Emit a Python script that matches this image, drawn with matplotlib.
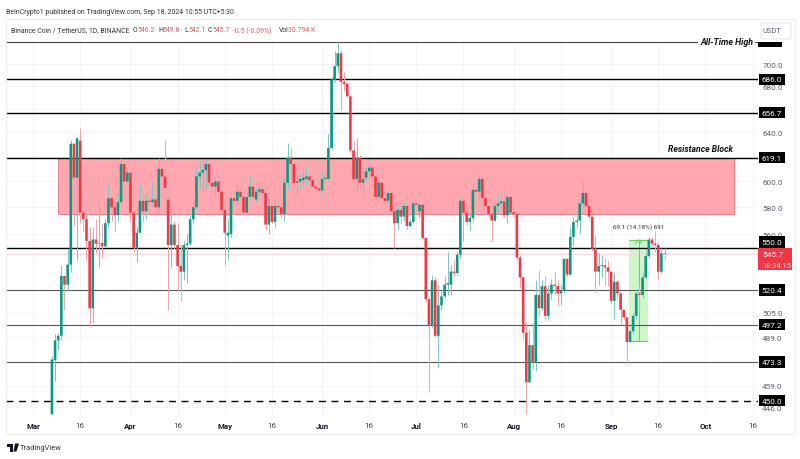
import matplotlib
matplotlib.use("Agg")
import matplotlib.pyplot as plt
import matplotlib.dates as mdates
from matplotlib.patches import Rectangle, FancyBboxPatch, Polygon
from matplotlib.ticker import NullLocator, FixedLocator, FixedFormatter
import numpy as np
import pandas as pd

start_date = "2024-03-07"
opens = [442,474.5,487,490,530,524,538,630.5,603,633,
576,571,555,508,556,553,553.5,551,568,587,
580,574,584,614,600,607,576,550,561,585,
577,585,584,586,580,610,604,586,552,567,
552,537,533,552,553,571,580,604,607,609,
614,599,596,600,592,578,559,560,587,585,
592,588,576,588,596,586,592,594,591,567,
581,569,581,580,575,599,619,614,599,600,
601,602,604,601,596,594.5,593,602,602,627,
686,698,710,684,682,671,625,602,619,599,
603,608,611,604,588,599,587,585,591,577,
568,578,573,581,566,569,583,577,582,557,
514,497,527,490,510,516,524,524,533,532,
545,585,576,569,572,593.5,592,602,587,581,
575,570,581,583,584.5,574,588,576.5,575,543,
529,492,461,484,473,517,508,523,503,518,
524,523,518,520,542,531,558,569,570,583,
591,581,573,549,533,537,537.5,536,533,513,
526,518,507,502,486,493,503,518,517,529,
544,556,553,552,533,546.2]
closes = [475,487,490,530,524,538,630.5,603,635,576,
571,555,508,556,553,553.5,551,568,587,580,
574,584,614,600,607,576,550,561,585,577,
585,584,586,580,610,604,595,552,567,552,
537,533,552,553,571,580,604,607,609,614,
599,596,600,592,578,561,561,587,585,592,
588,576,588,596,588,592,594,591,567,581,
569,581,580,575,599,619,614,599,600,602,
603,604,601,596,594.5,593,602,603,627,686,
698,710,684,682,671,625,602,619,599,602,
608,611,604,588,599,587,585,591,577,568,
578,573,581,566,569,583,582,582,557,514,
497,527,490,510,516,524,525,533,532,545,
585,576,569,572,593.5,592,602,587,581,575,
570,581,583,584.5,574,588,576,575,543,529,
492,461,484,473,517,508,523,503,518,524,
523,518,520,542,531,558,569,570,583,591,
581,573,549,533,537,537.5,536,533,513,526,
518,507,502,486,493,503,518,517,529,544,
556,553,552,533,546,545.7]
highs = [477,491,492,538,530,549,634,631,636,644,
591,587,565,565,571,587,568,571,598,591,
591,591,619,614,612,607,578,565,598,593,
591,589,600,590,619,617,634,601,583,570,
568,553,556,560,575,585,611,617,617,617,
614,609,606,600,609,586,571,589,593,598,
601,595,592,605,603,596,600,600,593,586,
586,586,589,586,603,631,627,617,606,607,
609,613,608,605,600,601,608,606,639,688,
712,721,713,693,684,672,634,635,621,609,
613,613,613,609,600,606,589,593,593,580,
582,583,584,583,571,586,585,583,582,558,
515,531,529,524,520,530,547,538,541,548,
587,587,583,575,598,601,606,605,593,591,
578,583,591,589,598,589,593,577,575,545,
530,499,494,499,527,534,527,530,524,528,
533,527,524,543,543,565,573,577,586,600,
592,581,573,559,546,545,543,541,533,532,
527,518,507,502,494,505,521,524,532,547,
558,558,562,554,550,549.8]
lows = [442,462,481,487,507,520,533,567,541,568,
562,541,496,498,546,536,543,551,565,570,
562,569,583,587,600,569,547,540,561,570,
571,583,581,575,575,604,584,507,536,549,
520,513,527,525,552,568,579,594,592,594,
597,592,589,583,577,538,541,558,584,583,
586,574,574,586,586,584,590,590,563,560,
568,565,576,573,570,593,601,581,589,594,
597,597,598,594,591,590,590.5,600,601,626,
684,692,659,676,670,624,594,592,596,590,
600,603,601,576,586,586,583,583,577,550,
563,568,570,564,565,568,580,572,556,512,
455,495,489,470,507,515,517,517,530,531,
543,555,567,562,570,582,585,583,580,573,
555,570,576,578,573,568,575,573,541,522,
488,442,461,469,468,503,507,500,500,514,
517,510,510,518,529,531,551,565,560,582,
580,571,548,519,524,529,524,523,511,501,
514,497,500,473,486,491,501,505,515,528,
543,551,547,527,532,542.1]

strong_levels = [686.0, 656.7, 619.1, 550.0]
thin_levels = [520.4, 497.2, 473.3]
ath_level = 720.7
support_level = 450.0
last_price = 545.7
block_low, block_high = 575.0, 619.1
block_start, block_end = "2024-03-08 22:00", "2024-10-10 02:00"
measure_low, measure_high = 486.9, 556.0
measure_start, measure_end = "2024-09-06 18:00", "2024-09-12 18:00"
price_ticks = [700, 680, 660, 640, 620, 600, 580, 560, 505, 489, 459, 446]
time_ticks = ["2024-03-01","2024-03-16","2024-04-01","2024-04-16","2024-05-01","2024-05-16",
              "2024-06-01","2024-06-16","2024-07-01","2024-07-16","2024-08-01","2024-08-16",
              "2024-09-01","2024-09-16","2024-10-01","2024-10-16"]
time_labels = ["Mar","16","Apr","16","May","16","Jun","16","Jul","16","Aug","16","Sep","16","Oct","16"]

FONT = "Roboto"
GREEN = "#089981"
RED = "#f23645"
W, H = 800, 460

plt.rcParams["font.family"] = [FONT, "DejaVu Sans"]
fig = plt.figure(figsize=(8, 4.6), dpi=100, facecolor="white")

def fx(px): return px / W
def fy(py): return 1 - py / H

ax = fig.add_axes([fx(6), fy(416.7), fx(758) - fx(6), fy(41.7) - fy(416.7)])
ax.set_yscale("log")
ax.set_ylim(441.2, 721.8)

dates = pd.date_range(start_date, periods=len(opens))
xs = mdates.date2num(dates)
o, h, l, c = map(np.array, (opens, highs, lows, closes))
x0 = mdates.date2num(pd.Timestamp("2024-03-01"))
xl, xr = x0 - 8.62, x0 + 230.75
ax.set_xlim(xl, xr)

for s in ax.spines.values():
    s.set_visible(False)

tick_x = mdates.date2num(pd.to_datetime(time_ticks))
ax.xaxis.set_major_locator(FixedLocator(tick_x))
ax.xaxis.set_major_formatter(FixedFormatter(time_labels))
ax.xaxis.set_minor_locator(NullLocator())
ax.yaxis.set_major_locator(FixedLocator(price_ticks))
ax.yaxis.set_major_formatter(FixedFormatter([f"{p:.1f}" for p in price_ticks]))
ax.yaxis.set_minor_locator(NullLocator())
ax.yaxis.tick_right()
ax.tick_params(axis="y", length=0, pad=3, labelsize=5.9, labelcolor="#5d606b")
ax.tick_params(axis="x", length=0, pad=4.5, labelsize=5.7, labelcolor="#444444")
for lab, txt in zip(ax.get_xticklabels(), time_labels):
    if txt != "16":
        lab.set_fontweight("bold")
        lab.set_color("#131722")
ax.grid(True, color="#f1f3f8", lw=0.6, zorder=0)
ax.set_axisbelow(True)

# resistance block
bs, be = mdates.date2num(pd.to_datetime([block_start, block_end]))
ax.add_patch(Rectangle((bs, block_low), be - bs, block_high - block_low,
                       facecolor="#ffa6af", edgecolor="#e8808a", lw=0.7, zorder=1))
# measure tool
ms, me = mdates.date2num(pd.to_datetime([measure_start, measure_end]))
ax.add_patch(Rectangle((ms, measure_low), me - ms, measure_high - measure_low,
                       facecolor="#cff5ca", edgecolor="none", zorder=1))
ax.hlines([measure_low, measure_high], ms, me, color="#6ccf6c", lw=0.9, zorder=1.5)
mc = (ms + me) / 2
ax.vlines(mc, measure_low, measure_high, color="#6ccf6c", lw=0.7, zorder=1.5)
ax.plot([mc - 0.9, mc, mc + 0.9], [measure_high - 3, measure_high, measure_high - 3],
        color="#6ccf6c", lw=0.7, zorder=1.5)
ax.text(mc, measure_high + 9.5, "69.1 (14.18%) 691", ha="center", va="center",
        fontsize=4.6, color="#333333", zorder=6)

# last price line
ax.axhline(last_price, color="#f6d9dd", lw=1.0, zorder=1.2)

# levels
ax.hlines(strong_levels, xl, xr, color="black", lw=1.0, zorder=2)
ax.hlines(thin_levels, xl, xr, color="#555555", lw=0.8, zorder=2)
ax.hlines([support_level], xl, xr, color="black", lw=1.0, linestyles=(0, (5, 4)), zorder=2)
ax.hlines([ath_level], xl, xr, color="#444444", lw=0.8, zorder=2, clip_on=False)

# candles
up = c >= o
colors = np.where(up, GREEN, RED)
wick_colors = np.where(up, "#7fc8bb", "#f0a6ae")
ax.vlines(xs, l, h, colors=wick_colors, lw=0.75, zorder=3)
bars = ax.bar(xs, np.maximum(np.abs(c - o), 0.5), bottom=np.minimum(o, c), width=0.82,
              color=colors, linewidth=0, zorder=4)
for b in bars:
    b.set_snap(False)

# annotations
tr = ax.get_yaxis_transform()
ax.text((753 - 6) / 752, ath_level, "All-Time High", transform=tr, ha="right", va="center",
        fontsize=6.3, fontstyle="italic", fontweight="bold", color="#111111",
        bbox=dict(facecolor="white", edgecolor="none", pad=1.5), zorder=7, clip_on=False)
ax.text((733 - 6) / 752, 626.5, "Resistance Block", transform=tr, ha="right", va="center",
        fontsize=6.2, fontstyle="italic", fontweight="bold", color="#111111", zorder=7)

fig.add_artist(Rectangle((fx(757.5), fy(47.7)), 24 / W, 4.7 / H, transform=fig.transFigure,
                         facecolor="black", edgecolor="none", zorder=10))
for val in strong_levels + thin_levels + [support_level]:
    lift = 6 if val == 550.0 else 0
    ax.annotate(f"{val:.1f}", xy=(1.005, val), xycoords=tr, xytext=(0, lift),
                textcoords="offset pixels", ha="left", va="center", fontsize=5.9, color="white",
                bbox=dict(facecolor="black", edgecolor="none", boxstyle="square,pad=0.34"),
                annotation_clip=False, zorder=8)

# last price badge
fig.add_artist(Rectangle((fx(758), fy(271)), 34 / W, 22 / H, transform=fig.transFigure,
                         facecolor=RED, edgecolor="none", zorder=10))
fig.text(fx(762), fy(255.5), "545.7", color="white", fontsize=6.0, ha="left", va="center", zorder=11)
fig.text(fx(762), fy(266), "18:34:15", color="white", fontsize=5.4, ha="left", va="center", zorder=11)

# frame
fig.add_artist(Rectangle((fx(6), fy(435)), 789 / W, 415 / H, transform=fig.transFigure,
                         facecolor="none", edgecolor="#eeeeee", lw=0.8, zorder=0.5))

# header
HS = 4.95
fig.text(fx(6), fy(12), "BeInCrypto1 published on TradingView.com, Sep 18, 2024 10:55 UTC+5:30",
         fontsize=HS, color="#333333", ha="left", va="center")
fig.text(fx(11), fy(31), "Binance Coin / TetherUS, 1D, BINANCE", fontsize=HS, color="#333333",
         ha="left", va="center")
hdr = [(133, "O", "546.2"), (158, "H", "549.8"), (184, "L", "542.1"), (208, "C", "545.7")]
for px, k, v in hdr:
    fig.text(fx(px), fy(31), k, fontsize=HS, color="#333333", ha="left", va="center")
    fig.text(fx(px + 4), fy(31), v, fontsize=HS, color="#e0596a", ha="left", va="center")
fig.text(fx(233), fy(31), "-0.5 (-0.09%)", fontsize=HS, color="#e0596a", ha="left", va="center")
fig.text(fx(279), fy(31), "Vol", fontsize=HS, color="#333333", ha="left", va="center")
fig.text(fx(288), fy(31), "30.794 K", fontsize=HS, color="#e0596a", ha="left", va="center")

# USDT button
fig.add_artist(FancyBboxPatch((fx(761), fy(40)), 30 / W, 16 / H, transform=fig.transFigure,
                              boxstyle="round,pad=0,rounding_size=0.002", facecolor="white",
                              edgecolor="#e3e5ec", lw=0.7, zorder=9))
fig.text(fx(772), fy(31.5), "USDT", fontsize=5.4, color="#5d606b", ha="center", va="center", zorder=12)

# TradingView logo and wordmark
fig.add_artist(Rectangle((fx(6.5), fy(447.5)), 6.5 / W, 3 / H, transform=fig.transFigure,
                         facecolor="#131722", edgecolor="none"))
fig.add_artist(Rectangle((fx(9.5), fy(452.5)), 3 / W, 8 / H, transform=fig.transFigure,
                         facecolor="#131722", edgecolor="none"))
fig.add_artist(Polygon([[fx(15), fy(444.5)], [fx(19), fy(444.5)], [fx(16.5), fy(452.5)], [fx(13.5), fy(452.5)]],
                       transform=fig.transFigure, facecolor="#131722", edgecolor="none"))
fig.text(fx(20), fy(448.5), "TradingView", fontsize=5.4, color="#333333", ha="left", va="center")

fig.savefig("out.png", dpi=100, facecolor="white")
